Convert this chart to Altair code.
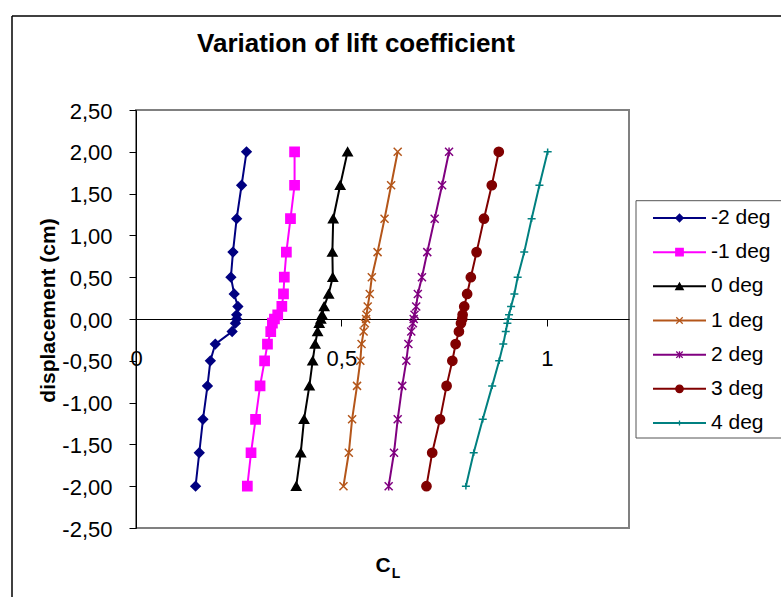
import altair as alt
import pandas as pd

# Displacement stations (cm), top to bottom
DISPLACEMENT = [2.0, 1.6, 1.2, 0.8, 0.5, 0.3, 0.15, 0.05, 0.0,
                -0.05, -0.15, -0.3, -0.5, -0.8, -1.2, -1.6, -2.0]

# Lift coefficient at each station, one list per angle of attack
CL_M2 = [0.269, 0.257, 0.245, 0.236, 0.231, 0.239, 0.248, 0.245, 0.245,
         0.242, 0.234, 0.193, 0.181, 0.174, 0.163, 0.154, 0.145]
CL_M1 = [0.386, 0.386, 0.376, 0.366, 0.361, 0.359, 0.355, 0.345, 0.337,
         0.332, 0.328, 0.320, 0.313, 0.302, 0.291, 0.280, 0.271]
CL_0 = [0.515, 0.497, 0.480, 0.478, 0.479, 0.469, 0.458, 0.453, 0.450,
        0.446, 0.442, 0.436, 0.430, 0.422, 0.409, 0.401, 0.390]
CL_1 = [0.637, 0.621, 0.605, 0.588, 0.574, 0.569, 0.564, 0.561, 0.560,
        0.557, 0.554, 0.549, 0.546, 0.538, 0.526, 0.518, 0.505]
CL_2 = [0.762, 0.745, 0.727, 0.709, 0.696, 0.686, 0.682, 0.678, 0.676,
        0.674, 0.670, 0.663, 0.658, 0.648, 0.637, 0.628, 0.615]
CL_3 = [0.883, 0.866, 0.847, 0.829, 0.815, 0.806, 0.799, 0.795, 0.794,
        0.791, 0.786, 0.778, 0.770, 0.756, 0.740, 0.721, 0.707]
CL_4 = [1.002, 0.982, 0.963, 0.945, 0.929, 0.921, 0.913, 0.908, 0.906,
        0.904, 0.900, 0.894, 0.884, 0.867, 0.844, 0.822, 0.803]

SERIES = ["-2 deg", "-1 deg", "0 deg", "1 deg", "2 deg", "3 deg", "4 deg"]
VALUES = [CL_M2, CL_M1, CL_0, CL_1, CL_2, CL_3, CL_4]
COLORS = ["#000080", "#FF00FF", "#000000", "#B4561A", "#800080", "#800000", "#008080"]

# Tick values
Y_TICKS = [-2.5, -2.0, -1.5, -1.0, -0.5, 0.0, 0.5, 1.0, 1.5, 2.0, 2.5]
X_TICKS = [0, 0.5, 1]

FONT = "Liberation Sans"

# Markers (custom paths are in unit coordinates and only stroked)
X_PATH = "M-0.87,-0.87L0.87,0.87M-0.87,0.87L0.87,-0.87"
STAR_PATH = X_PATH + "M0,-0.95L0,0.95"
PLUS_PATH = "M-0.87,0H0.87M0,-0.7V0.7"
MARKERS = ["diamond", "square", "triangle-up", X_PATH, STAR_PATH, "circle", PLUS_PATH]

rows = []
for name, vals in zip(SERIES, VALUES):
    for cm, cl in zip(DISPLACEMENT, vals):
        rows.append({"series": name, "cl": cl, "cm": cm})
df = pd.DataFrame(rows)
legend_df = pd.DataFrame({"series": SERIES})

W, H = 493, 418

x_enc = alt.X(
    "cl:Q",
    scale=alt.Scale(domain=[0, 1.2], nice=False, zero=False),
    axis=alt.Axis(
        values=X_TICKS, offset=-209, grid=False,
        labelExpr="replace(toString(datum.value), '.', ',')",
        labelFontSize=22, labelFont=FONT, labelColor="black",
        labelPadding=22, labelFlush=False, labelOverlap=False,
        domainColor="black", domainWidth=1,
        tickColor="black", tickSize=7, tickWidth=1,
        title="C", titleFont=FONT, titleFontSize=21, titleFontWeight="bold",
        titleColor="black", titleX=246.5, titleY=252.7,
        titleBaseline="alphabetic", titleAlign="center",
    ),
)
y_enc = alt.Y(
    "cm:Q",
    scale=alt.Scale(domain=[-2.5, 2.5], nice=False, zero=False),
    axis=alt.Axis(
        values=Y_TICKS, grid=False,
        labelExpr="(datum.value < 0 ? '-' : '') + replace(format(abs(datum.value), '.2f'), '.', ',')",
        labelFontSize=22, labelFont=FONT, labelColor="black",
        labelPadding=17, labelFlush=False, labelOverlap=False, labelOffset=1,
        domainColor="black", domainWidth=1,
        tickColor="black", tickSize=7, tickWidth=1,
        title="displacement (cm)", titleFont=FONT, titleFontSize=21,
        titleFontWeight="bold", titleColor="black",
        titleX=-88, titleY=200, titleAngle=-90,
        titleBaseline="middle", titleAlign="center",
    ),
)

stroke_enc = alt.Stroke("series:N", scale=alt.Scale(domain=SERIES, range=COLORS), legend=None)
fill_enc = alt.Fill("series:N", scale=alt.Scale(domain=SERIES, range=COLORS), legend=None)
shape_enc = alt.Shape("series:N", scale=alt.Scale(domain=SERIES, range=MARKERS), legend=None)

lines = alt.Chart(df).mark_line(strokeWidth=2).encode(
    x=x_enc, y=y_enc, stroke=stroke_enc, order=alt.Order("cm:Q"),
)
points = alt.Chart(df).mark_point(size=85, strokeWidth=1.5, opacity=1).encode(
    x="cl:Q", y="cm:Q", stroke=stroke_enc, fill=fill_enc, shape=shape_enc,
)
main = alt.layer(lines, points)

# Legend: one row per series on its own point scale
leg_y = alt.Y("series:N", axis=None,
              scale=alt.Scale(type="point", domain=SERIES, range=[108, 313], padding=0))
leg_lines = alt.Chart(legend_df).mark_rule(strokeWidth=2).encode(
    x=alt.value(517), x2=alt.value(570), y=leg_y, stroke=stroke_enc,
)
leg_points = alt.Chart(legend_df).mark_point(size=55, strokeWidth=1.3, opacity=1).encode(
    x=alt.value(543.5), y=leg_y, stroke=stroke_enc, fill=fill_enc, shape=shape_enc,
)
leg_text = alt.Chart(legend_df).mark_text(
    font=FONT, fontSize=21, color="black", align="left", baseline="middle",
).encode(x=alt.value(575), y=leg_y, text="series:N")
legend = alt.layer(leg_lines, leg_points, leg_text)

one = pd.DataFrame({"k": [0]})

# Outer chart frame
frame_left = alt.Chart(one).mark_rule(color="black", strokeWidth=1.5).encode(
    x=alt.value(-124), y=alt.value(-94), y2=alt.value(500))
frame_top = alt.Chart(one).mark_rule(color="black", strokeWidth=1.5).encode(
    x=alt.value(-124), x2=alt.value(660), y=alt.value(-94))

# Legend box outline
box_left = alt.Chart(one).mark_rule(color="#555555", strokeWidth=1).encode(
    x=alt.value(500), y=alt.value(90.7), y2=alt.value(328))
box_top = alt.Chart(one).mark_rule(color="#555555", strokeWidth=1).encode(
    x=alt.value(500), x2=alt.value(660), y=alt.value(90.7))
box_bottom = alt.Chart(one).mark_rule(color="#555555", strokeWidth=1).encode(
    x=alt.value(500), x2=alt.value(660), y=alt.value(328))

# Chart title
title = alt.Chart(one).mark_text(
    text="Variation of lift coefficient", font=FONT, fontSize=26, fontWeight="bold",
    color="black", align="center", baseline="alphabetic",
).encode(x=alt.value(220), y=alt.value(-58))

# Subscript of the x-axis title
sub_l = alt.Chart(one).mark_text(
    text="L", font=FONT, fontSize=14, fontWeight="bold", color="black",
    align="left", baseline="alphabetic",
).encode(x=alt.value(255.7), y=alt.value(468))

chart = alt.layer(
    frame_left, frame_top, main, legend,
    box_left, box_top, box_bottom, title, sub_l,
).resolve_scale(
    y="independent",
).properties(
    width=W, height=H,
    autosize=alt.AutoSizeParams(type="none"),
    padding={"left": 136, "top": 110, "right": 152, "bottom": 69},
    background="white",
).configure_view(stroke="#808080", strokeWidth=2)

chart.save("out.html", embed_options={"renderer": "svg", "actions": False})
